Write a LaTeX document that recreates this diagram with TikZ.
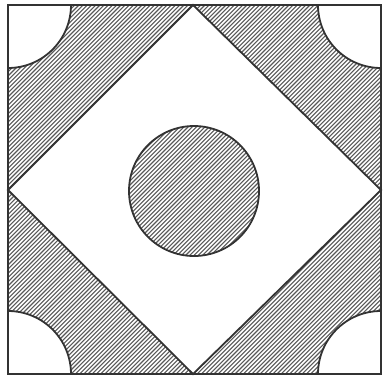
\documentclass[tikz,border=0pt]{standalone}
\begin{document}
\begin{tikzpicture}[x=1pt,y=-1pt,
  outline/.style={draw=black!80,line width=1.8pt},
  hatch/.style={draw=black!65,line width=1.1pt}]
\useasboundingbox (0,0) rectangle (387,380);
\fill[white] (0,0) rectangle (387,380);
\coordinate (A) at (8,5);
\coordinate (B) at (381,5);
\coordinate (C) at (381,374);
\coordinate (D) at (8,374);
\coordinate (T) at (193,5);
\coordinate (R) at (381,190);
\coordinate (Bo) at (193,374);
\coordinate (L) at (8,190);
\coordinate (O) at (194,191);
% hatched background
\begin{scope}
  \clip (A) rectangle (C);
  \foreach \a in {-380,-375.8,...,392} \draw[hatch] (\a,380) -- ++(380,-380);
  \fill[white] (T) -- (R) -- (Bo) -- (L) -- cycle;
  \foreach \p in {A,B,C,D} \fill[white] (\p) circle (63pt);
\end{scope}
% hatched central disc
\begin{scope}
  \clip (O) circle (65pt);
  \foreach \a in {-380,-375.8,...,392} \draw[hatch] (\a,380) -- ++(380,-380);
\end{scope}
% outlines
\begin{scope}
  \clip (A) rectangle (C);
  \foreach \p in {A,B,C,D} \draw[outline] (\p) circle (63pt);
\end{scope}
\draw[outline] (T) -- (R) -- (Bo) -- (L) -- cycle;
\draw[outline] (O) circle (65pt);
\draw[outline] (A) rectangle (C);
\end{tikzpicture}
\end{document}
